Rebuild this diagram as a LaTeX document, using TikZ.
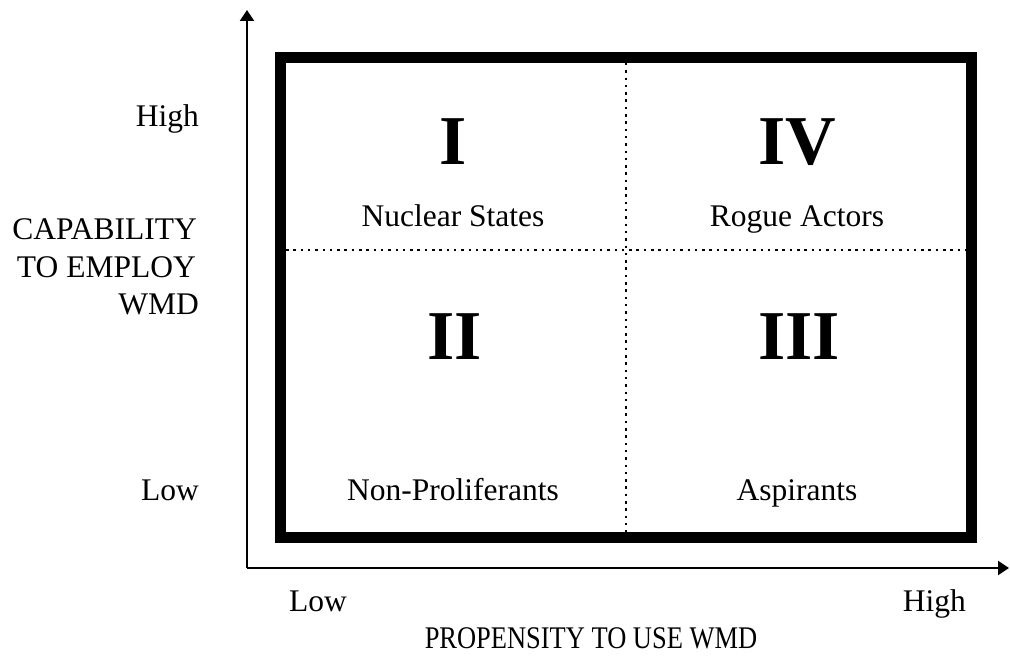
\documentclass[tikz,border=0pt]{standalone}
\usepackage{fontspec}
\setmainfont{Liberation Serif}
\usetikzlibrary{arrows.meta}
\begin{document}
\begin{tikzpicture}[x=1pt,y=-1pt,
  lbl/.style={inner sep=0pt,font=\fontsize{31.5}{37}\selectfont},
  num/.style={inner sep=0pt,anchor=base,font=\fontsize{70}{80}\selectfont\bfseries},
  axis/.style={line width=2pt,-{Triangle[width=14pt,length=11pt]}},
  frame/.style={line width=11pt},
  grid/.style={line width=2.5pt,dash pattern=on 2.5pt off 4.8pt}]
\useasboundingbox (0,0) rectangle (1010,658);
% axes
\coordinate (O) at (247,568);
\coordinate (ytip) at (247,10);
\coordinate (xtip) at (1009,568);
\draw[axis] (O) -- (ytip);
\draw[axis] (O) -- (xtip);
% frame
\draw[frame] (280.5,57.5) rectangle (971.5,537.5);
% dotted dividers
\coordinate (vt) at (626,63);
\coordinate (vb) at (626,532);
\coordinate (hl) at (286,250);
\coordinate (hr) at (966,250);
\draw[grid] (vt) -- (vb);
\draw[grid] (hl) -- (hr);
% quadrant numerals
\node[num] (n1) at (453,165) {I};
\node[num] (n4) at (797,165) {IV};
\node[num] (n2) at (455,359) {II};
\node[num] (n3) at (799,359) {III};
% quadrant labels
\node[lbl,anchor=base] (q1) at (453,226) {Nuclear States};
\node[lbl,anchor=base] (q4) at (797,226) {Rogue Actors};
\node[lbl,anchor=base] (q2) at (453,500) {Non-Proliferants};
\node[lbl,anchor=base] (q3) at (797,500) {Aspirants};
% y axis labels
\node[lbl,anchor=base east] (yhigh) at (199,127) {High};
\node[lbl,anchor=base east] (yl1) at (197,239) {CAPABILITY};
\node[lbl,anchor=base east] (yl2) at (196,277) {TO EMPLOY};
\node[lbl,anchor=base east] (yl3) at (199,314) {WMD};
\node[lbl,anchor=base east] (ylow) at (199,500) {Low};
% x axis labels
\node[lbl,anchor=base] (xlow) at (318,611) {Low};
\node[lbl,anchor=base east] (xhigh) at (966,611) {High};
\node[lbl,anchor=base] (xlab) at (591,648) {\scalebox{0.84}[1]{PROPENSITY TO USE WMD}};
\end{tikzpicture}
\end{document}
